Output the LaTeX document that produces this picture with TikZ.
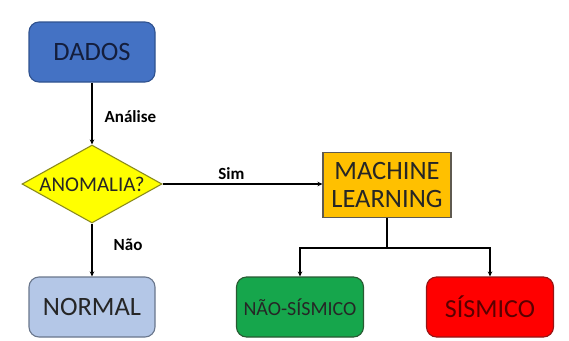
\documentclass[tikz,border=0pt]{standalone}
\usepackage{fontspec}
\setmainfont{Carlito}
\usetikzlibrary{arrows.meta,shapes.geometric}
\definecolor{DadosClr}{RGB}{68,114,196}
\definecolor{DadosLine}{RGB}{47,82,143}
\definecolor{DadosTxt}{RGB}{20,30,60}
\definecolor{NormalClr}{RGB}{180,199,231}
\definecolor{NormalLine}{RGB}{105,118,140}
\definecolor{AnomClr}{RGB}{255,255,0}
\definecolor{AnomLine}{RGB}{140,140,30}
\definecolor{MlClr}{RGB}{255,192,0}
\definecolor{MlLine}{RGB}{95,90,80}
\definecolor{NaoClr}{RGB}{22,166,76}
\definecolor{NaoLine}{RGB}{40,90,50}
\definecolor{SisClr}{RGB}{255,0,0}
\definecolor{SisLine}{RGB}{150,20,20}
\definecolor{SisTxt}{RGB}{90,0,0}

\begin{document}
\begin{tikzpicture}[x=1pt,y=-1pt]
\tikzset{
  box/.style={draw,rounded corners=10pt,line width=1.1pt,minimum width=126pt,minimum height=60pt,inner sep=0pt},
  lbl/.style={font=\bfseries\fontsize{17}{18}\selectfont,inner sep=1pt},
  arr/.style={line width=1.3pt,-{Stealth[length=5pt,width=4.5pt]}}
}
\useasboundingbox (0,0) rectangle (569,340);

\node[box,fill=DadosClr,draw=DadosLine,text=DadosTxt,font=\fontsize{26.5}{27}\selectfont] (dados) at (92,52) {DADOS};
\node[diamond,draw=AnomLine,fill=AnomClr,line width=1.1pt,aspect=1.8,inner sep=0pt,minimum width=140pt,minimum height=78pt,font=\fontsize{21}{22}\selectfont,text=black!85] (anom) at (92,184) {ANOMALIA?};
\node[box,fill=NormalClr,draw=NormalLine,text=black!85,font=\fontsize{26.5}{27}\selectfont] (normal) at (92,307) {NORMAL};
\node[draw=MlLine,fill=MlClr,line width=1.1pt,minimum width=128pt,minimum height=65pt,inner sep=0pt,align=center,text=black!85,font=\fontsize{26.5}{27.5}\selectfont] (ml) at (387,185) {MACHINE\\LEARNING};
\node[box,fill=NaoClr,draw=NaoLine,minimum width=127pt,text=black!85,font=\fontsize{20}{22}\selectfont] (naosis) at (300,307) {NÃO-SÍSMICO};
\node[box,fill=SisClr,draw=SisLine,minimum width=127pt,text=SisTxt,font=\fontsize{26}{27}\selectfont] (sis) at (490,307) {SÍSMICO};

\draw[arr] (dados) -- node[lbl,right=11pt,pos=.55] {Análise} (anom);
\draw[arr] (anom) -- node[lbl,above=3pt,pos=.43] {Sim} (ml.west|-anom);
\draw[arr] (anom) -- node[lbl,right=20pt,pos=.4] {Não} (normal);

\draw[line width=1.3pt] (ml.south) -- ++(0,30) coordinate (split);
\draw[arr] (split) -| (naosis);
\draw[arr] (split) -| (sis);
\end{tikzpicture}
\end{document}
